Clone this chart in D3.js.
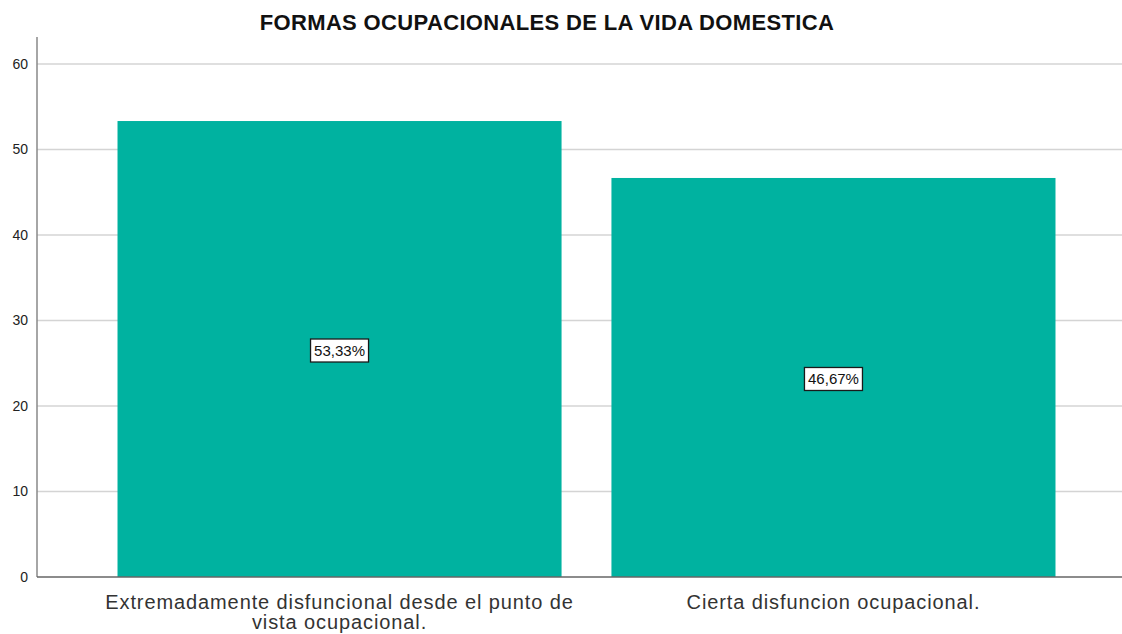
<!DOCTYPE html>
<html><head><meta charset="utf-8">
<script src="https://cdn.jsdelivr.net/npm/d3@7"></script>
<style>body{margin:0;background:#fff;font-family:Arial,"Liberation Sans",sans-serif;}</style>
</head><body>
<svg id="c" width="1122" height="634"></svg>
<script>
const title = "FORMAS OCUPACIONALES DE LA VIDA DOMESTICA";
const categories = [["Extremadamente disfuncional desde el punto de","vista ocupacional."],["Cierta disfuncion ocupacional."]];
const values = [53.33, 46.67];
const valueLabels = ["53,33%", "46,67%"];
const yTicks = [0,10,20,30,40,50,60];

const FONT = "Arial, 'Liberation Sans', sans-serif";
const svg = d3.select("#c");
const mLeft = 37, mRight = 1122, mTop = 37, mBottom = 577;
const y = d3.scaleLinear().domain([0,60]).range([mBottom, 64]);
const x = d3.scaleBand().domain(d3.range(values.length)).range([mLeft, 1136]).paddingInner(0.101).paddingOuter(0.163);

// grid
svg.append("g").selectAll("line").data(yTicks.filter(d=>d>0)).join("line")
  .attr("x1", mLeft).attr("x2", mRight).attr("y1", d=>y(d)).attr("y2", d=>y(d))
  .attr("stroke", "#d4d4d4").attr("stroke-width", 1.5);

// y axis
const ya = svg.append("g").attr("transform", `translate(${mLeft},0)`)
  .call(d3.axisLeft(y).tickValues(yTicks).tickSize(0).tickPadding(9));
ya.select(".domain").remove();
ya.selectAll("text").attr("font-size", 14).attr("font-family", FONT).attr("fill", "#222");

// bars
svg.append("g").selectAll("rect").data(values).join("rect")
  .attr("x", (d,i)=>x(i)).attr("width", x.bandwidth())
  .attr("y", d=>y(d)).attr("height", d=>mBottom - y(d))
  .attr("fill", "#00b2a0");

// axes lines
svg.append("line").attr("x1", mLeft).attr("x2", mLeft).attr("y1", mTop).attr("y2", mBottom).attr("stroke", "#888").attr("stroke-width", 1.5);
svg.append("line").attr("x1", mLeft).attr("x2", mRight).attr("y1", mBottom).attr("y2", mBottom).attr("stroke", "#666").attr("stroke-width", 1.5);

// value labels
const lab = svg.append("g").selectAll("g").data(values).join("g")
  .attr("transform", (d,i)=>`translate(${x(i)+x.bandwidth()/2},${y(d/2)})`);
lab.append("rect").attr("x",-29).attr("y",-10).attr("width",58).attr("height",23)
  .attr("fill","#fff").attr("stroke","#1a1a1a").attr("stroke-width",1.3);
lab.append("text").attr("text-anchor","middle").attr("y",7).attr("font-size",15)
  .attr("font-family", FONT).attr("fill","#111").text((d,i)=>valueLabels[i]);

// x labels
const xl = svg.append("g").selectAll("text").data(categories).join("text")
  .attr("x",(d,i)=>x(i)+x.bandwidth()/2).attr("y",609)
  .attr("text-anchor","middle").attr("font-size",20).attr("letter-spacing",0.9)
  .attr("font-family", FONT).attr("fill","#333");
xl.selectAll("tspan").data(d=>d).join("tspan")
  .attr("x", function(){return this.parentNode.getAttribute("x");})
  .attr("dy",(d,i)=>i===0?0:20).text(d=>d);

// title
svg.append("text").attr("x",547).attr("y",30).attr("text-anchor","middle")
  .attr("font-size",22).attr("font-weight","bold").attr("font-family", FONT)
  .attr("letter-spacing",0.35).attr("fill","#111").text(title);
</script>
</body></html>
